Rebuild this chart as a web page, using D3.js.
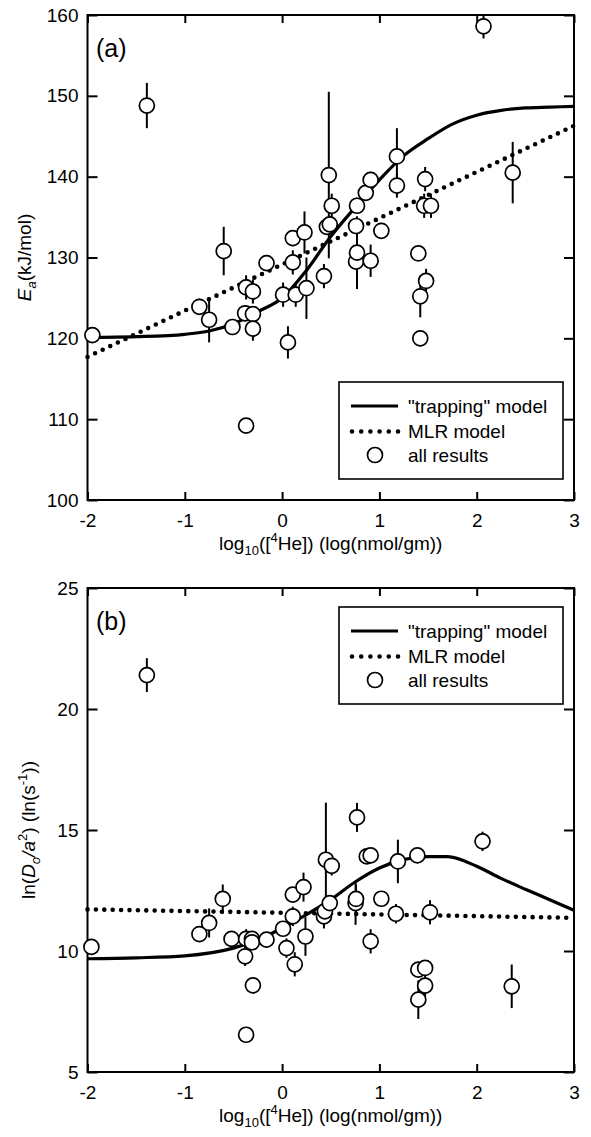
<!DOCTYPE html>
<html>
<head>
<meta charset="utf-8">
<script src="https://cdn.jsdelivr.net/npm/d3@7"></script>
<style>
body { margin: 0; background: #fff; }
text { font-family: "Liberation Sans", Arial, sans-serif; }
</style>
</head>
<body>
<svg id="chart" width="591" height="1137"></svg>
<script>
// ---- shared x axis ----
var xTicks = [-2, -1, 0, 1, 2, 3];

// ---- panel (a): activation energy ----
var eaX   = [-1.95, -1.39, -0.85, -0.75, -0.60, -0.51, -0.38, -0.37, -0.37, -0.30, -0.30, -0.30, -0.16, 0.01, 0.06, 0.11, 0.11, 0.14, 0.23, 0.25, 0.43, 0.46, 0.48, 0.49, 0.51, 0.76, 0.76, 0.77, 0.77, 0.86, 0.91, 0.91, 1.02, 1.18, 1.18, 1.40, 1.42, 1.42, 1.46, 1.47, 1.48, 1.53, 2.07, 2.37];
var eaVal = [120.4, 148.8, 123.9, 122.3, 130.8, 121.4, 123.1, 126.3, 109.2, 125.8, 123.0, 121.2, 129.3, 125.4, 119.5, 132.4, 129.4, 125.4, 133.1, 126.2, 127.7, 133.8, 140.2, 134.1, 136.4, 133.9, 129.5, 136.4, 130.6, 138.0, 139.6, 129.6, 133.3, 142.5, 138.9, 130.5, 125.2, 120.0, 136.4, 139.7, 127.1, 136.4, 158.6, 140.5];
var eaErr = [0, 2.8, 1.0, 2.8, 3.0, 1.0, 1.0, 1.5, 0, 1.5, 1.0, 1.5, 0.5, 1.5, 2.0, 1.0, 1.5, 1.5, 2.6, 3.8, 1.5, 1.0, 10.3, 1.0, 1.5, 1.0, 1.0, 1.0, 4.5, 1.0, 1.0, 2.0, 1.0, 3.5, 1.5, 0, 2.6, 1.0, 1.5, 1.5, 1.5, 1.5, 1.5, 3.8];
var eaTrapX = [-2, -1.5, -1, -0.75, -0.5, -0.25, 0, 0.25, 0.5, 0.75, 1, 1.25, 1.5, 1.75, 2, 2.25, 2.5, 2.75, 3];
var eaTrapY = [120.1, 120.2, 120.5, 120.9, 121.8, 123.3, 125.0, 128.4, 132.6, 136.2, 139.6, 142.6, 144.7, 146.5, 147.6, 148.2, 148.5, 148.6, 148.7];
var eaMlrX = [-2, 3];
var eaMlrY = [117.7, 146.3];
var eaTicks = [100, 110, 120, 130, 140, 150, 160];

// ---- panel (b): frequency factor ----
var lnX   = [-1.96, -1.39, -0.85, -0.75, -0.61, -0.52, -0.38, -0.37, -0.37, -0.31, -0.31, -0.30, -0.16, 0.01, 0.045, 0.11, 0.11, 0.13, 0.22, 0.24, 0.43, 0.44, 0.45, 0.49, 0.51, 0.755, 0.76, 0.77, 0.87, 0.91, 0.91, 1.02, 1.17, 1.19, 1.39, 1.40, 1.40, 1.47, 1.47, 1.52, 2.06, 2.36];
var lnVal = [10.17, 21.40, 10.70, 11.16, 12.15, 10.50, 9.78, 10.50, 6.54, 10.50, 10.36, 8.58, 10.47, 10.92, 10.12, 12.33, 11.43, 9.45, 12.64, 10.60, 11.43, 11.64, 13.77, 11.98, 13.52, 11.98, 12.15, 15.52, 13.91, 13.95, 10.40, 12.16, 11.54, 13.70, 13.95, 9.23, 7.99, 9.30, 8.57, 11.60, 14.53, 8.54];
var lnErr = [0, 0.7, 0, 0.6, 0.6, 0, 0.4, 0.4, 0, 0.3, 0.3, 0, 0, 0, 0.4, 0, 0.4, 0.5, 0.6, 0.8, 0.5, 0, 2.36, 0.3, 0.4, 0.9, 0.6, 0.6, 0, 0, 0.5, 0, 0.4, 0.9, 0, 0, 0.8, 0, 0.5, 0.5, 0.4, 0.9];
var lnTrapX = [-2, -1.5, -1, -0.5, -0.25, 0, 0.25, 0.5, 0.75, 1, 1.25, 1.5, 1.7, 2, 2.25, 2.5, 2.75, 3];
var lnTrapY = [9.68, 9.72, 9.80, 10.12, 10.45, 10.95, 11.50, 12.12, 12.85, 13.43, 13.78, 13.90, 13.90, 13.50, 13.00, 12.55, 12.12, 11.68];
var lnMlrX = [-2, 3];
var lnMlrY = [11.72, 11.37];
var lnTicks = [5, 10, 15, 20, 25];

var legendLabels = ['"trapping" model', 'MLR model', 'all results'];

var svg = d3.select('#chart');
var left = 87.5, right = 574;
var fontSize = 19;

var x = d3.scaleLinear().domain([-2, 3]).range([left, right]);
var plainNum = function (d) { return String(d); };   // hyphen minus like the original

function styleAxis(g) {
    g.attr('font-size', fontSize).attr('font-family', '"Liberation Sans", Arial, sans-serif');
    g.select('.domain').remove();
    g.selectAll('.tick line').attr('stroke', '#000').attr('stroke-width', 2);
    g.selectAll('.tick text').attr('fill', '#000');
}

function drawPanel(p) {
    var y = d3.scaleLinear().domain(p.yDomain).range([p.bottom, p.top]);
    var g = svg.append('g');

    // axes, ticks inward
    g.append('g').attr('transform', 'translate(0,' + p.bottom + ')')
        .call(d3.axisBottom(x).tickValues(xTicks).tickSize(-8).tickPadding(14).tickFormat(plainNum))
        .call(styleAxis);
    g.append('g').attr('transform', 'translate(0,' + p.top + ')')
        .call(d3.axisTop(x).tickValues(xTicks).tickSize(-8).tickFormat(''))
        .call(styleAxis);
    g.append('g').attr('transform', 'translate(' + left + ',0)')
        .call(d3.axisLeft(y).tickValues(p.yTicks).tickSize(-10).tickPadding(9).tickFormat(plainNum))
        .call(styleAxis);
    g.append('g').attr('transform', 'translate(' + right + ',0)')
        .call(d3.axisRight(y).tickValues(p.yTicks).tickSize(-10).tickFormat(''))
        .call(styleAxis);

    g.append('rect')
        .attr('x', left).attr('y', p.top)
        .attr('width', right - left).attr('height', p.bottom - p.top)
        .attr('fill', 'none').attr('stroke', '#000').attr('stroke-width', 2);

    // model curves
    var trap = d3.line()
        .x(function (d) { return x(d[0]); })
        .y(function (d) { return y(d[1]); })
        .curve(d3.curveMonotoneX);
    g.append('path')
        .datum(d3.zip(p.trapX, p.trapY))
        .attr('d', trap)
        .attr('fill', 'none').attr('stroke', '#000').attr('stroke-width', 3.2);

    var mlr = d3.line()
        .x(function (d) { return x(d[0]); })
        .y(function (d) { return y(d[1]); });
    g.append('path')
        .datum(d3.zip(p.mlrX, p.mlrY))
        .attr('d', mlr)
        .attr('fill', 'none').attr('stroke', '#000').attr('stroke-width', 4.6)
        .attr('stroke-linecap', 'round').attr('stroke-dasharray', '0,8.4');

    // data points with error bars
    var pts = d3.range(p.xs.length).map(function (i) {
        return { x: p.xs[i], v: p.vals[i], e: p.errs[i] };
    });
    g.append('g').selectAll('line')
        .data(pts.filter(function (d) { return d.e > 0; }))
        .enter().append('line')
        .attr('x1', function (d) { return x(d.x); })
        .attr('x2', function (d) { return x(d.x); })
        .attr('y1', function (d) { return y(d.v - d.e); })
        .attr('y2', function (d) { return y(d.v + d.e); })
        .attr('stroke', '#000').attr('stroke-width', 2);
    g.append('g').selectAll('circle')
        .data(pts)
        .enter().append('circle')
        .attr('cx', function (d) { return x(d.x); })
        .attr('cy', function (d) { return y(d.v); })
        .attr('r', 7.5)
        .attr('fill', '#fff').attr('stroke', '#000').attr('stroke-width', 1.7);

    // panel letter
    g.append('text').attr('x', 96).attr('y', p.top + 42)
        .attr('font-size', 25).text(p.letter);

    // legend
    var lg = g.append('g').attr('transform', 'translate(339,' + p.legendTop + ')');
    lg.append('rect').attr('width', 224).attr('height', 97)
        .attr('fill', '#fff').attr('stroke', '#000').attr('stroke-width', 1.6);
    var rows = [24, 49.5, 73];
    lg.append('line').attr('x1', 12).attr('x2', 59).attr('y1', rows[0]).attr('y2', rows[0])
        .attr('stroke', '#000').attr('stroke-width', 3.2);
    lg.append('line').attr('x1', 13).attr('x2', 59).attr('y1', rows[1]).attr('y2', rows[1])
        .attr('stroke', '#000').attr('stroke-width', 4.6)
        .attr('stroke-linecap', 'round').attr('stroke-dasharray', '0,9.2');
    lg.append('circle').attr('cx', 36).attr('cy', rows[2]).attr('r', 7.5)
        .attr('fill', '#fff').attr('stroke', '#000').attr('stroke-width', 1.7);
    lg.selectAll('text.lab')
        .data(legendLabels)
        .enter().append('text')
        .attr('class', 'lab')
        .attr('x', 69)
        .attr('y', function (d, i) { return rows[i]; })
        .attr('dy', '0.36em')
        .attr('font-size', fontSize)
        .text(function (d) { return d; });

    // x axis title
    var xt = g.append('text').attr('x', (left + right) / 2).attr('y', p.bottom + 50)
        .attr('text-anchor', 'middle').attr('font-size', fontSize);
    xt.append('tspan').text('log');
    xt.append('tspan').attr('font-size', 13).attr('dy', 5).text('10');
    xt.append('tspan').attr('dy', -5).text('([');
    xt.append('tspan').attr('font-size', 13).attr('dy', -8).text('4');
    xt.append('tspan').attr('dy', 8).text('He]) (log(nmol/gm))');

    // y axis title
    var yt = g.append('text')
        .attr('transform', 'translate(' + p.yLabelX + ',' + (p.top + p.bottom) / 2 + ') rotate(-90)')
        .attr('text-anchor', 'middle').attr('font-size', fontSize);
    p.yLabel(yt);
}

drawPanel({
    top: 15, bottom: 500, yDomain: [100, 160], yTicks: eaTicks,
    xs: eaX, vals: eaVal, errs: eaErr,
    trapX: eaTrapX, trapY: eaTrapY, mlrX: eaMlrX, mlrY: eaMlrY,
    letter: '(a)', legendTop: 382, yLabelX: 31,
    yLabel: function (t) {
        t.append('tspan').attr('font-style', 'italic').text('E');
        t.append('tspan').attr('font-style', 'italic').attr('font-size', 13).attr('dy', 5).text('a');
        t.append('tspan').attr('dy', -5).text('(kJ/mol)');
    }
});

drawPanel({
    top: 588, bottom: 1072, yDomain: [5, 25], yTicks: lnTicks,
    xs: lnX, vals: lnVal, errs: lnErr,
    trapX: lnTrapX, trapY: lnTrapY, mlrX: lnMlrX, mlrY: lnMlrY,
    letter: '(b)', legendTop: 607, yLabelX: 35,
    yLabel: function (t) {
        t.append('tspan').text('ln(');
        t.append('tspan').attr('font-style', 'italic').text('D');
        t.append('tspan').attr('font-style', 'italic').attr('font-size', 13).attr('dy', 5).text('o');
        t.append('tspan').attr('font-style', 'italic').attr('dy', -5).text('/a');
        t.append('tspan').attr('font-size', 13).attr('dy', -8).text('2');
        t.append('tspan').attr('dy', 8).text(') (ln(s');
        t.append('tspan').attr('font-size', 13).attr('dy', -8).text('-1');
        t.append('tspan').attr('dy', 8).text('))');
    }
});
</script>
</body>
</html>
